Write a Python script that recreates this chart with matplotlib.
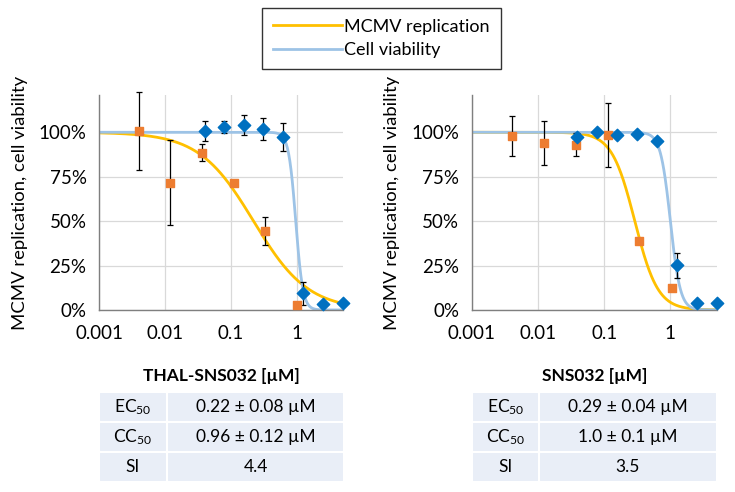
import numpy as np
import matplotlib.pyplot as plt
from matplotlib.patches import Rectangle
from matplotlib.ticker import FixedLocator, NullLocator

plt.rcParams['font.family'] = ['Lato', 'DejaVu Sans']
plt.rcParams['mathtext.fontset'] = 'custom'
plt.rcParams['mathtext.rm'] = 'Lato'
plt.rcParams['mathtext.it'] = 'Lato'

# THAL-SNS032 data
thal_rep_x = [0.0041, 0.012, 0.037, 0.111, 0.33, 0.99]
thal_rep_y = [1.006, 0.716, 0.886, 0.716, 0.443, 0.026]
thal_rep_err = [0.22, 0.24, 0.047, 0.0, 0.08, 0.0]
thal_via_x = [0.04, 0.078, 0.157, 0.31, 0.62, 1.25, 2.5, 5.0]
thal_via_y = [1.006, 1.03, 1.04, 1.019, 0.972, 0.093, 0.034, 0.041]
thal_via_err = [0.056, 0.033, 0.055, 0.06, 0.08, 0.063, 0.0, 0.0]
thal_ec50, thal_ec_hill = 0.22, 1.05
thal_cc50, thal_cc_hill = 0.96, 8.0

# SNS032 data
sns_rep_x = [0.0041, 0.0125, 0.038, 0.114, 0.337, 1.07]
sns_rep_y = [0.979, 0.938, 0.929, 0.985, 0.387, 0.121]
sns_rep_err = [0.115, 0.123, 0.065, 0.18, 0.0, 0.0]
sns_via_x = [0.039, 0.078, 0.155, 0.31, 0.63, 1.27, 2.5, 5.0]
sns_via_y = [0.976, 1.004, 0.987, 0.99, 0.95, 0.252, 0.037, 0.037]
sns_via_err = [0.02, 0.0, 0.0, 0.0, 0.0, 0.071, 0.0, 0.0]
sns_ec50, sns_ec_hill = 0.29, 2.5
sns_cc50, sns_cc_hill = 1.0, 5.8

thal_table = [("EC$_{50}$", "0.22 ± 0.08 µM"), ("CC$_{50}$", "0.96 ± 0.12 µM"), ("SI", "4.4")]
sns_table = [("EC$_{50}$", "0.29 ± 0.04 µM"), ("CC$_{50}$", "1.0 ± 0.1 µM"), ("SI", "3.5")]

c_rep_line = '#FFC000'
c_via_line = '#9DC3E6'
c_rep_mark = '#ED7D31'
c_via_mark = '#0070C0'


def hill(x, c50, h):   # dose-response fit
    return 1.0 / (1.0 + (x / c50) ** h)


fig = plt.figure(figsize=(7.35, 4.92), dpi=100)


def panel(rect, rx, ry, re, vx, vy, ve, ec, eh, cc, ch):
    ax = fig.add_axes(rect)
    xx = np.logspace(-3, np.log10(5), 400)
    l1, = ax.plot(xx, hill(xx, ec, eh), color=c_rep_line, lw=2, zorder=2)
    l2, = ax.plot(xx, hill(xx, cc, ch), color=c_via_line, lw=2, zorder=2)
    ax.errorbar(rx, ry, yerr=re, fmt='none', ecolor='black', elinewidth=0.9,
                capsize=2.5, capthick=0.9, zorder=3, clip_on=False)
    ax.errorbar(vx, vy, yerr=ve, fmt='none', ecolor='black', elinewidth=0.9,
                capsize=2.5, capthick=0.9, zorder=3, clip_on=False)
    ax.scatter(rx, ry, marker='s', s=38, color=c_rep_mark, zorder=4, clip_on=False)
    ax.scatter(vx, vy, marker='D', s=40, color=c_via_mark, zorder=4, clip_on=False)
    ax.set_xscale('log')
    ax.set_xlim(0.001, 5)
    ax.set_ylim(0, 1.21)
    ax.xaxis.set_major_locator(FixedLocator([0.001, 0.01, 0.1, 1]))
    ax.xaxis.set_minor_locator(NullLocator())
    ax.set_xticklabels(['0.001', '0.01', '0.1', '1'])
    ax.set_yticks([0, 0.25, 0.5, 0.75, 1.0])
    ax.set_yticklabels(['0%', '25%', '50%', '75%', '100%'])
    ax.grid(True, color='#D9D9D9', lw=0.9, zorder=0)
    ax.set_axisbelow(True)
    for s in ['top', 'right']:
        ax.spines[s].set_visible(False)
    for s in ['left', 'bottom']:
        ax.spines[s].set_color('#7F7F7F')
        ax.spines[s].set_linewidth(1.0)
    ax.tick_params(length=0, labelsize=13.5)
    ax.tick_params(axis='x', pad=11)
    ax.tick_params(axis='y', pad=9)
    ax.set_ylabel('MCMV replication, cell viability', fontsize=13.3, labelpad=8)
    return ax, l1, l2


ax1, l1, l2 = panel([0.1347, 0.370, 0.332, 0.437], thal_rep_x, thal_rep_y, thal_rep_err,
                    thal_via_x, thal_via_y, thal_via_err,
                    thal_ec50, thal_ec_hill, thal_cc50, thal_cc_hill)
ax2, _, _ = panel([0.642, 0.370, 0.333, 0.437], sns_rep_x, sns_rep_y, sns_rep_err,
                  sns_via_x, sns_via_y, sns_via_err,
                  sns_ec50, sns_ec_hill, sns_cc50, sns_cc_hill)

leg = fig.legend([l1, l2], ['MCMV replication', 'Cell viability'],
                 loc='upper center', bbox_to_anchor=(0.519, 0.984), fontsize=13,
                 frameon=True, fancybox=False, handlelength=3.8, handletextpad=0.15,
                 borderpad=0.6, labelspacing=0.4, borderaxespad=0)
leg.get_frame().set_edgecolor('black')
leg.get_frame().set_linewidth(1.0)


def table(x0, x1, xsplit, title, rows):
    W, H = 735.0, 492.0
    fig.text((x0 + x1) / 2 / W, 1 - 376 / H, title, ha='center', va='center',
             fontsize=12.5, fontweight='bold')
    top = 392
    rh = 30
    for i, (k, v) in enumerate(rows):
        yt = top + i * rh
        for a, b in [(x0, xsplit), (xsplit, x1)]:
            fig.patches.append(Rectangle((a / W, 1 - (yt + rh) / H), (b - a) / W, rh / H,
                                         transform=fig.transFigure, facecolor='#E9EEF7',
                                         edgecolor='white', lw=1.5))
        yc = 1 - (yt + rh / 2) / H
        fig.text((x0 + xsplit) / 2 / W, yc, k, ha='center', va='center', fontsize=12.5)
        fig.text((xsplit + x1) / 2 / W, yc, v, ha='center', va='center', fontsize=12.5)


table(99, 344, 167, 'THAL-SNS032 [µM]', thal_table)
table(472, 717, 539, 'SNS032 [µM]', sns_table)

fig.savefig('out.png', dpi=100)
